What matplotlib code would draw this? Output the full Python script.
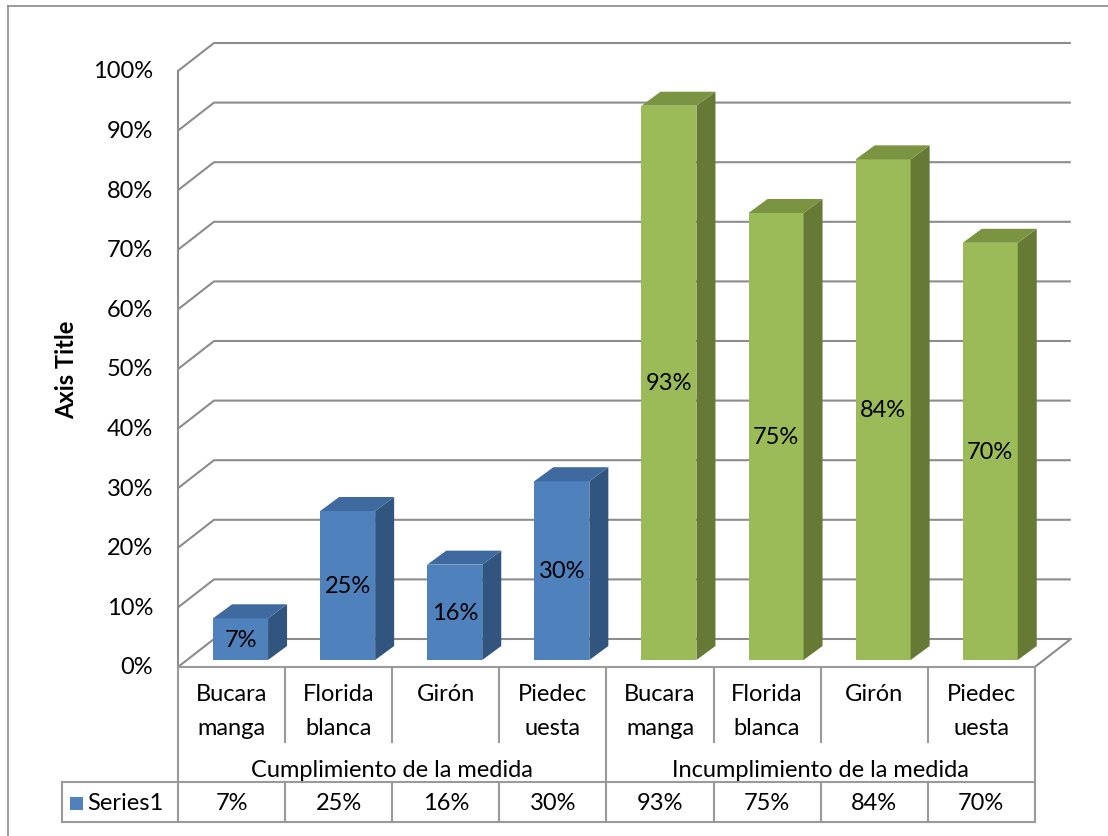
import matplotlib
matplotlib.use("Agg")
import matplotlib.pyplot as plt
from matplotlib.patches import Rectangle

plt.rcParams['font.family'] = ['Lato', 'DejaVu Sans']

# data
groups = ["Cumplimiento de la medida", "Incumplimiento de la medida"]
towns = ["Bucara\nmanga", "Florida\nblanca", "Girón", "Piedec\nuesta"]
cumple = [7, 25, 16, 30]
incumple = [93, 75, 84, 70]
series_name = "Series1"
yticks = list(range(0, 101, 10))

values = cumple + incumple
labels = towns + towns
n = len(values)

# colours (front, side, top)
blue = ("#4F81BD", "#32557F", "#3E6AA0")
green = ("#9BBB59", "#667A35", "#7A9442")
grid_c = "#8C8C8C"
line_c = "#9A9A9A"
FS = 17

# pixel layout -> data units
PX_CAT = 107.1      # px per category
PX_PCT = 5.96       # px per percent
X0, Y0 = 178, 668   # front-left corner of floor (px from top-left)
W, H = 1108, 837

def dx(px):
    return (px - X0) / PX_CAT

def dy(py):
    return (Y0 - py) / PX_PCT

# depth vectors in data units
wall = (36 / PX_CAT, 28 / PX_PCT)
bar_off = (0.25 * wall[0], 0.25 * wall[1])
bar_d = (19 / PX_CAT, 14 / PX_PCT)
bar_w = 55 / PX_CAT

fig = plt.figure(figsize=(W / 100, H / 100), dpi=100)
ax = fig.add_axes([0, 0, 1, 1])
ax.set_xlim(dx(0), dx(W))
ax.set_ylim(dy(H), dy(0))
ax.axis("off")

lw = 1.5
# outer chart border (top and left visible)
ax.plot([dx(8), dx(W + 5)], [dy(7), dy(7)], color="#8A8A8A", lw=1.2, clip_on=False)
ax.plot([dx(8), dx(8)], [dy(7), dy(H + 5)], color="#8A8A8A", lw=1.2, clip_on=False)

# back wall gridlines with diagonal side wall
for t in yticks:
    ax.plot([0, wall[0], n + wall[0]], [t, t + wall[1], t + wall[1]],
            color=grid_c, lw=lw, solid_capstyle="butt", zorder=1)
    ax.text(dx(153), t, f"{t}%", ha="right", va="center", fontsize=FS)
# left axis line
ax.plot([0, 0], [0, 100], color=grid_c, lw=lw, zorder=1)
# floor right diagonal
ax.plot([n, n + wall[0]], [0, wall[1]], color=grid_c, lw=lw, zorder=1)

# bars
for i, v in enumerate(values):
    front, side, top = blue if i < 4 else green
    x0 = i + 0.5 - bar_w / 2 + bar_off[0]
    y0 = bar_off[1]
    x1 = x0 + bar_w
    y1 = y0 + v
    ax.fill([x0, x1, x1, x0], [y0, y0, y1, y1], color=front, lw=0, zorder=3)
    ax.fill([x1, x1 + bar_d[0], x1 + bar_d[0], x1],
            [y0, y0 + bar_d[1], y1 + bar_d[1], y1], color=side, lw=0, zorder=3)
    ax.fill([x0, x1, x1 + bar_d[0], x0 + bar_d[0]],
            [y1, y1, y1 + bar_d[1], y1 + bar_d[1]], color=top, lw=0, zorder=3)
    ax.text((x0 + x1) / 2, (y0 + y1) / 2, f"{v}%", ha="center", va="center",
            fontsize=FS, zorder=4)

# axis title
ax.text(dx(67), dy(370), "Axis Title", rotation=90, ha="center", va="center",
        fontsize=FS, fontweight="bold")

# data table
row_cat_bot = dy(743)
row_ser_top = dy(783)
row_ser_bot = dy(823)
x_tab_left = dx(62)

ax.plot([0, n], [0, 0], color=line_c, lw=lw, zorder=2)
for k in range(n + 1):
    bottom = row_ser_bot if k % 4 == 0 else row_cat_bot
    ax.plot([k, k], [0, bottom], color=line_c, lw=lw, zorder=2)
    if k % 4 != 0:
        ax.plot([k, k], [row_ser_top, row_ser_bot], color=line_c, lw=lw, zorder=2)
ax.plot([x_tab_left, n], [row_ser_top, row_ser_top], color=line_c, lw=lw)
ax.plot([x_tab_left, n], [row_ser_bot, row_ser_bot], color=line_c, lw=lw)
ax.plot([x_tab_left, x_tab_left], [row_ser_top, row_ser_bot], color=line_c, lw=lw)

for i, lab in enumerate(labels):
    ax.text(i + 0.5, dy(684), lab, ha="center", va="top", fontsize=FS,
            linespacing=1.75)
    ax.text(i + 0.5, dy(804), f"{values[i]}%",
            ha="center", va="center", fontsize=FS)
for g, name in enumerate(groups):
    ax.text(g * 4 + 2, dy(771), name, ha="center", va="center", fontsize=FS)

# legend key in table
ax.add_patch(Rectangle((dx(70), dy(811)), 13 / PX_CAT, 13 / PX_PCT,
                       color=blue[0], lw=0))
ax.text(dx(87), dy(804), series_name, ha="left",
        va="center", fontsize=FS)

fig.savefig("out.png", dpi=100)
